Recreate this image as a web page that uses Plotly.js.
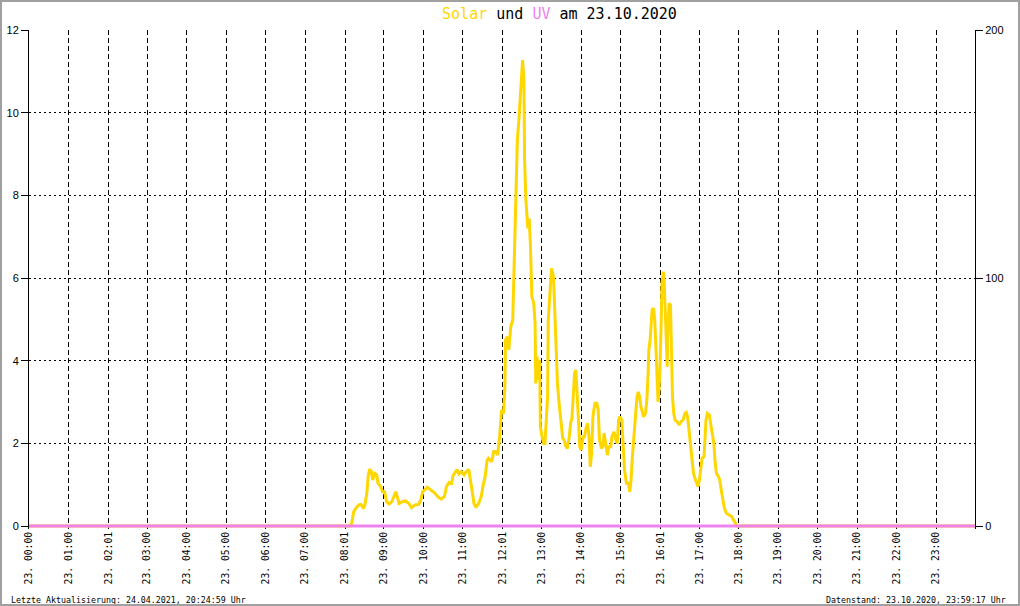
<!DOCTYPE html>
<html><head><meta charset="utf-8">
<script src="https://cdn.plot.ly/plotly-3.0.1.min.js"></script>
<style>
html,body{margin:0;padding:0;background:#fff}
#wrap{position:relative;width:1020px;height:606px}
#chart{width:1020px;height:606px}
#frame{position:absolute;left:0;top:0;width:1020px;height:606px;box-sizing:border-box;border:2px solid #a0a0a0;pointer-events:none}
</style>
</head><body>
<div id="wrap"><div id="chart"></div><div id="frame"></div></div>
<script>
// x tick labels (time of day)
const tickLabels = ["00:00","01:00","02:01","03:00","04:00","05:00","06:00","07:00","08:01","09:00","10:00","11:00","12:01","13:00","14:00","15:00","16:01","17:00","18:00","19:00","20:00","21:00","22:00","23:00"];
const dayPrefix = "23. ";

// Solar (W/m², right axis)
const solarTimes = ["00:00","08:09","08:11","08:14","08:18","08:22","08:25","08:29","08:31","08:34","08:36","08:38","08:41","08:43","08:46","08:49","08:51","08:55","08:58","09:01","09:04","09:08","09:12","09:16","09:18","09:21","09:23","09:28","09:33","09:38","09:42","09:47","09:53","09:56","09:59","10:06","10:11","10:17","10:22","10:27","10:32","10:35","10:39","10:43","10:45","10:51","10:54","10:58","11:02","11:05","11:09","11:12","11:14","11:17","11:20","11:24","11:28","11:31","11:34","11:37","11:39","11:44","11:47","11:50","11:53","11:56","11:59","12:02","12:04","12:05","12:08","12:10","12:12","12:13","12:16","12:17","12:19","12:20","12:22","12:23","12:25","12:27","12:29","12:31","12:33","12:34","12:36","12:38","12:39","12:41","12:43","12:45","12:48","12:50","12:51","12:53","12:55","12:57","12:58","13:01","13:03","13:05","13:07","13:09","13:10","13:12","13:14","13:15","13:18","13:20","13:22","13:24","13:27","13:29","13:32","13:34","13:37","13:39","13:42","13:44","13:46","13:48","13:50","13:52","13:54","13:56","13:58","14:00","14:03","14:05","14:08","14:10","14:12","14:14","14:16","14:18","14:21","14:24","14:26","14:28","14:31","14:33","14:35","14:38","14:40","14:42","14:45","14:47","14:50","14:53","14:55","14:57","14:59","15:02","15:04","15:06","15:09","15:12","15:14","15:16","15:18","15:20","15:22","15:25","15:27","15:29","15:31","15:33","15:35","15:38","15:40","15:42","15:43","15:45","15:47","15:48","15:50","15:52","15:54","15:55","15:57","15:58","16:00","16:02","16:03","16:05","16:06","16:08","16:09","16:11","16:12","16:14","16:16","16:17","16:18","16:19","16:21","16:23","16:26","16:29","16:32","16:35","16:38","16:40","16:42","16:44","16:47","16:49","16:51","16:54","16:56","16:58","17:00","17:02","17:04","17:07","17:09","17:10","17:12","17:15","17:17","17:19","17:22","17:24","17:26","17:29","17:31","17:34","17:36","17:38","17:41","17:45","17:49","17:52","17:55","17:57","23:59:17"];
const solarValues = [0,0,1.1,5.8,7.4,8.5,8.7,7.1,8.5,13.2,19.9,22.9,21.9,18.5,21.2,20.6,17.2,15.9,13.8,13.8,9.8,8.9,9.8,12.5,13.8,11.2,9.1,9.8,10.1,9.1,7.4,8.5,8.7,10.5,13.8,15.6,14.5,13.4,11.8,10.8,11.8,15.8,17.5,17.2,20.2,22.8,21.0,21.9,20.6,21.9,22.8,18.5,14.5,9.1,7.5,9.1,11.8,16.5,19.9,26.6,27.3,25.9,30.0,30.0,28.6,36.0,46.8,45.4,56.2,75.0,76.3,71.0,75.7,80.4,83.1,93.8,118.0,131.4,146.2,155.6,162.4,170.4,179.8,187.9,179.8,147.6,131.4,123.4,120.0,124.0,112.6,92.5,89.8,81.7,57.5,68.3,58.9,66.9,40.0,35.4,33.3,33.3,42.7,52.1,83.1,93.8,103.2,103.9,100.5,84.4,71.0,57.5,48.1,42.7,35.4,34.7,32.0,31.3,36.0,41.4,43.4,52.1,61.6,62.9,54.8,42.7,32.0,30.6,36.0,36.0,40.0,41.4,36.0,23.9,29.3,44.1,49.5,49.5,46.8,34.7,31.3,32.0,37.4,32.0,28.6,32.0,32.0,36.0,38.0,34.7,33.3,42.7,44.1,42.7,33.3,22.6,17.2,17.2,13.8,18.5,27.9,34.7,44.1,52.1,54.1,52.1,48.1,45.4,44.1,45.4,50.8,61.6,71.0,75.0,84.4,87.1,87.8,83.1,71.0,60.2,50.1,52.1,62.9,84.4,97.9,102.5,100.5,87.1,75.0,64.2,79.0,89.8,89.1,77.7,64.2,52.1,45.4,42.7,42.1,40.7,42.1,42.7,45.4,45.8,44.1,38.7,30.6,25.3,21.2,18.5,17.2,15.9,18.5,23.9,27.3,27.9,36.0,42.7,45.4,44.8,41.4,38.7,33.3,25.3,21.2,19.9,18.5,13.2,9.1,7.1,5.1,4.4,3.8,2.4,1.1,0,0];

// UV index (left axis)
const uvTimes = ["00:00","23:59:17"];
const uvValues = [0,0];

const leftTicks = [0,2,4,6,8,10,12];
const rightTicks = [0,100,200];

function toHours(s){const p=s.split(':').map(Number);return p[0]+p[1]/60+(p.length>2?p[2]/3600:0);}

const solarTrace = {
  x: solarTimes.map(toHours), y: solarValues, yaxis: 'y2', type: 'scatter', mode: 'lines',
  line: {color: '#FFD700', width: 3}, hoverinfo: 'skip', showlegend: false
};
const uvTrace = {
  x: uvTimes.map(toHours), y: uvValues, yaxis: 'y', type: 'scatter', mode: 'lines',
  line: {color: '#EE82EE', width: 3}, hoverinfo: 'skip', showlegend: false
};

const pxPerUnit = 499 / (12 + 3/41.33);
const yMin = -3 / 41.33;

const layout = {
  width: 1020, height: 606,
  margin: {l: 29, r: 45, t: 30, b: 77, pad: 0},
  paper_bgcolor: '#fff', plot_bgcolor: '#fff',
  showlegend: false,
  title: {
    text: '<span style="color:#FFD700">Solar</span> und <span style="color:#EE82EE">UV</span> am 23.10.2020',
    font: {family: 'DejaVu Sans Mono, monospace', size: 15, color: '#000'},
    x: 0.5485, xref: 'container', xanchor: 'center',
    y: 0.978, yref: 'container', yanchor: 'middle'
  },
  xaxis: {
    range: [0, 23.988], type: 'linear',
    tickmode: 'array', tickvals: tickLabels.map(toHours), ticktext: tickLabels.map(t => dayPrefix + t),
    tickangle: -90, ticks: '', showline: false, zeroline: false,
    showgrid: true, gridcolor: '#000', gridwidth: 1, griddash: '5px,3px',
    tickfont: {family: 'DejaVu Sans Mono, monospace', size: 9.7, color: '#000'}
  },
  yaxis2: {
    range: [yMin * 200 / 12, 200], side: 'right',
    tickmode: 'array', tickvals: rightTicks,
    showgrid: false, zeroline: false, showline: true, linecolor: '#000', linewidth: 1,
    ticks: 'outside', ticklen: 7, tickcolor: '#000', tickwidth: 1,
    tickfont: {family: 'Liberation Sans, Arial, sans-serif', size: 11, color: '#000'}
  },
  yaxis: {
    range: [yMin, 12], side: 'left', overlaying: 'y2',
    tickmode: 'array', tickvals: leftTicks,
    showgrid: true, gridcolor: '#000', gridwidth: 1, griddash: '2px,3px',
    zeroline: false, showline: true, linecolor: '#000', linewidth: 1,
    ticks: 'outside', ticklen: 7, tickcolor: '#000', tickwidth: 1,
    tickfont: {family: 'Liberation Sans, Arial, sans-serif', size: 11, color: '#000'}
  },
  annotations: [
    {text: 'Letzte Aktualisierung: 24.04.2021, 20:24:59 Uhr', xref: 'paper', yref: 'paper',
     x: -0.0211, y: -0.1423, xanchor: 'left', yanchor: 'middle', showarrow: false,
     font: {family: 'DejaVu Sans Mono, monospace', size: 8.3, color: '#000'}},
    {text: 'Datenstand: 23.10.2020, 23:59:17 Uhr', xref: 'paper', yref: 'paper',
     x: 1.0349, y: -0.1423, xanchor: 'right', yanchor: 'middle', showarrow: false,
     font: {family: 'DejaVu Sans Mono, monospace', size: 8.3, color: '#000'}}
  ]
};

Plotly.newPlot('chart', [solarTrace, uvTrace], layout, {staticPlot: true, displayModeBar: false});
</script>
</body></html>
